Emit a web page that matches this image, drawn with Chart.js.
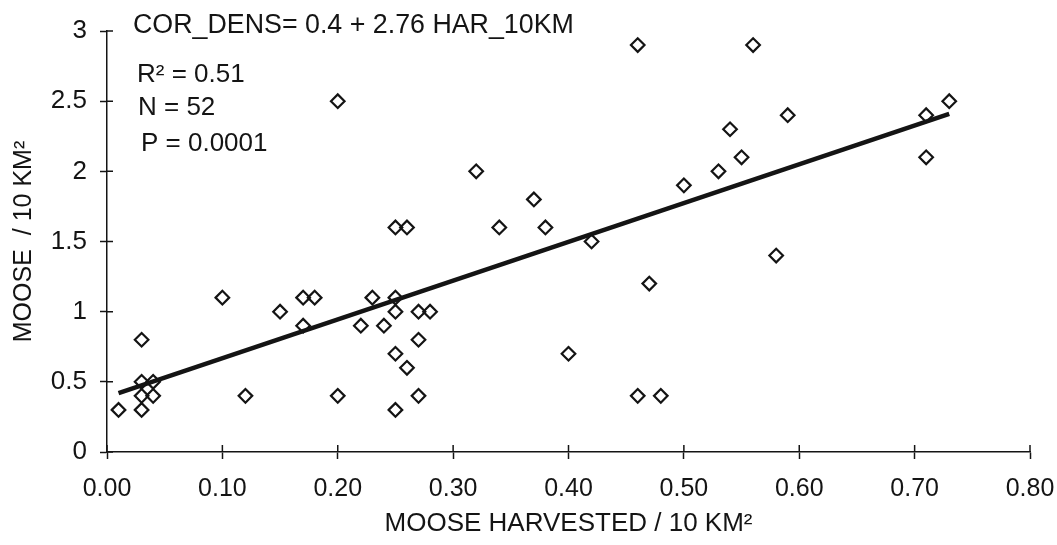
<!DOCTYPE html>
<html>
<head>
<meta charset="utf-8">
<script src="https://cdn.jsdelivr.net/npm/chart.js@4"></script>
<style>
  html, body { margin: 0; padding: 0; background: #fff; }
  #wrap { width: 1057px; height: 545px; }
</style>
</head>
<body>
<div id="wrap"><canvas id="c" width="1057" height="545"></canvas></div>
<script>
// Moose harvested per 10 km² (x) vs moose density per 10 km² (y)
const harvested = [0.01, 0.03, 0.03, 0.04, 0.03, 0.04, 0.03, 0.10, 0.12, 0.15,
                   0.17, 0.18, 0.17, 0.20, 0.22, 0.20, 0.25, 0.26, 0.23, 0.25,
                   0.25, 0.27, 0.28, 0.24, 0.27, 0.25, 0.26, 0.27, 0.25, 0.46,
                   0.56, 0.32, 0.37, 0.54, 0.55, 0.53, 0.50, 0.73, 0.71, 0.59,
                   0.71, 0.58, 0.47, 0.46, 0.48, 0.34, 0.38, 0.42, 0.40];
const density   = [0.3, 0.8, 0.5, 0.5, 0.4, 0.4, 0.3, 1.1, 0.4, 1.0,
                   1.1, 1.1, 0.9, 0.4, 0.9, 2.5, 1.6, 1.6, 1.1, 1.1,
                   1.0, 1.0, 1.0, 0.9, 0.8, 0.7, 0.6, 0.4, 0.3, 2.9,
                   2.9, 2.0, 1.8, 2.3, 2.1, 2.0, 1.9, 2.5, 2.4, 2.4,
                   2.1, 1.4, 1.2, 0.4, 0.4, 1.6, 1.6, 1.5, 0.7];
// Fitted regression line end points
const fitX = [0.01, 0.73];
const fitY = [0.42, 2.41];
// Axis tick labels
const xTickLabels = ['0.00','0.10','0.20','0.30','0.40','0.50','0.60','0.70','0.80'];
const yTickLabels = ['0','0.5','1','1.5','2','2.5','3'];
// Annotation texts
const equationText = 'COR_DENS= 0.4 + 2.76 HAR_10KM';
const statTexts = ['R\u00B2 = 0.51', 'N = 52', 'P = 0.0001'];

const INK = '#141414';
const FONT = "'Liberation Sans', Arial, Helvetica, sans-serif";

const pts = harvested.map((x, i) => ({ x: x, y: density[i] }));
const fitPts = fitX.map((x, i) => ({ x: x, y: fitY[i] }));

// Draw the inner half of each axis tick so ticks cross the axis lines
const crossTicks = {
  id: 'crossTicks',
  afterDraw(chart) {
    const ctx = chart.ctx;
    const xs = chart.scales.x, ys = chart.scales.y;
    ctx.save();
    ctx.strokeStyle = INK;
    ctx.lineWidth = 1.5;
    ctx.beginPath();
    xs.ticks.forEach(t => {
      const p = xs.getPixelForValue(t.value);
      ctx.moveTo(p, xs.top);
      ctx.lineTo(p, xs.top - 7);
    });
    ys.ticks.forEach(t => {
      const p = ys.getPixelForValue(t.value);
      ctx.moveTo(ys.right, p);
      ctx.lineTo(ys.right + 6, p);
    });
    ctx.stroke();
    ctx.restore();
  }
};

// Equation and statistics text in the upper-left of the plot
const notes = {
  id: 'notes',
  afterDraw(chart) {
    const ctx = chart.ctx;
    ctx.save();
    ctx.fillStyle = INK;
    ctx.textAlign = 'left';
    ctx.textBaseline = 'alphabetic';
    ctx.font = '26.8px ' + FONT;
    ctx.fillText(equationText, 133, 33);
    ctx.font = '26px ' + FONT;
    const lefts = [137, 138, 141];
    const bases = [82, 115, 151];
    statTexts.forEach((s, i) => ctx.fillText(s, lefts[i], bases[i]));
    ctx.restore();
  }
};

new Chart(document.getElementById('c'), {
  type: 'scatter',
  data: {
    datasets: [
      {
        label: 'Observed',
        data: pts,
        pointStyle: 'rectRot',
        pointRadius: 6.8,
        pointHoverRadius: 6.8,
        pointBorderWidth: 2.2,
        borderColor: INK,
        backgroundColor: 'rgba(0,0,0,0)',
        order: 2
      },
      {
        label: 'Fit',
        type: 'line',
        data: fitPts,
        borderColor: INK,
        borderWidth: 4.5,
        pointRadius: 0,
        fill: false,
        tension: 0,
        order: 1
      }
    ]
  },
  options: {
    responsive: false,
    animation: false,
    devicePixelRatio: 1,
    layout: { padding: { left: 0, right: 27, top: 31, bottom: 0 } },
    plugins: {
      legend: { display: false },
      tooltip: { enabled: false },
      title: { display: false }
    },
    scales: {
      x: {
        type: 'linear',
        min: 0, max: 0.8,
        afterFit(s) { s.height = 93; s.paddingLeft = 0; s.paddingRight = 0; },
        afterBuildTicks(s) { s.ticks = xTickLabels.map(l => ({ value: parseFloat(l) })); },
        ticks: {
          color: INK,
          font: { family: FONT, size: 25 },
          padding: 15,
          maxRotation: 0,
          autoSkip: false,
          callback: (v, i) => xTickLabels[i]
        },
        grid: { drawOnChartArea: false, drawTicks: true, tickLength: 7, tickColor: INK, tickWidth: 1.5 },
        border: { display: true, color: INK, width: 1.5 },
        title: {
          display: true,
          text: 'MOOSE HARVESTED / 10 KM\u00B2',
          color: INK,
          font: { family: FONT, size: 26 },
          padding: { top: 0, bottom: 6 }
        }
      },
      y: {
        type: 'linear',
        min: 0, max: 3,
        afterFit(s) { s.width = 107; s.paddingTop = 0; s.paddingBottom = 0; },
        afterBuildTicks(s) { s.ticks = yTickLabels.map(l => ({ value: parseFloat(l) })); },
        ticks: {
          color: INK,
          font: { family: FONT, size: 26 },
          padding: 13,
          autoSkip: false,
          callback: (v, i) => yTickLabels[i]
        },
        grid: { drawOnChartArea: false, drawTicks: true, tickLength: 7, tickColor: INK, tickWidth: 1.5 },
        border: { display: true, color: INK, width: 1.5 },
        title: {
          display: true,
          text: 'MOOSE  / 10 KM\u00B2',
          color: INK,
          font: { family: FONT, size: 25 },
          padding: { top: 9, bottom: 0 }
        }
      }
    }
  },
  plugins: [crossTicks, notes]
});
</script>
</body>
</html>
